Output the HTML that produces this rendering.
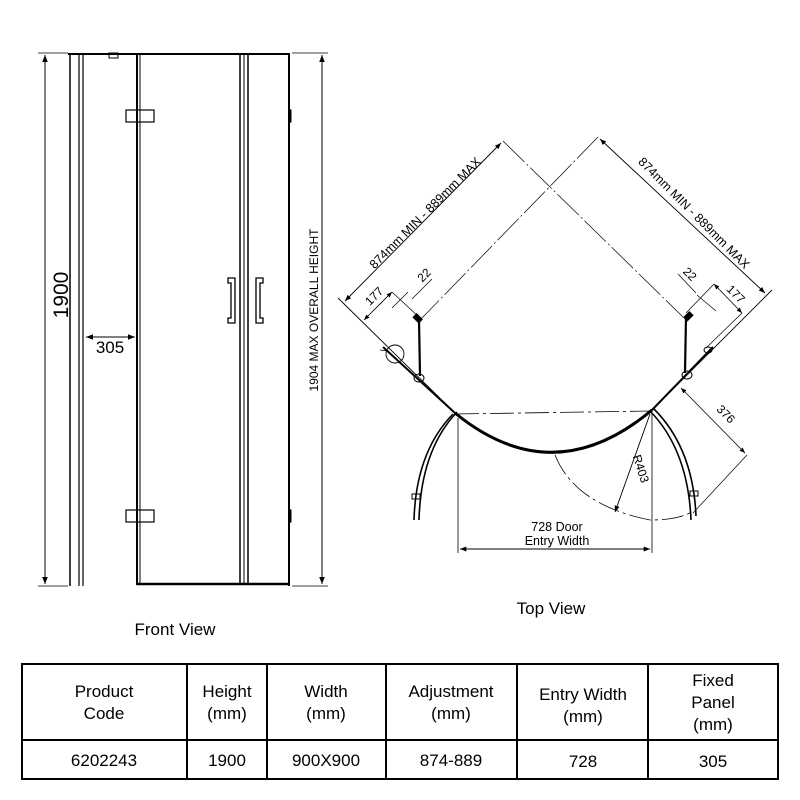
<!DOCTYPE html>
<html><head><meta charset="utf-8"><style>
body{margin:0;background:#fff;width:800px;height:800px;overflow:hidden}
svg{display:block}
text{font-family:"Liberation Sans",sans-serif;fill:#000}
</style></head><body>
<svg width="800" height="800" viewBox="0 0 800 800" xmlns="http://www.w3.org/2000/svg">
<defs>
<marker id="a" viewBox="0 0 10 10" refX="10" refY="5" markerWidth="7" markerHeight="7" orient="auto-start-reverse"><path d="M0,1 L10,5 L0,9 z" fill="#000"/></marker>
</defs>
<g stroke="#000" fill="none">
<!-- Front view -->
<line x1="70" y1="53" x2="70" y2="586" stroke-width="1.5"/>
<line x1="79" y1="53" x2="79" y2="586" stroke-width="1.2"/>
<line x1="83" y1="53" x2="83" y2="586" stroke-width="1.2"/>
<line x1="68" y1="54" x2="290" y2="54" stroke-width="2"/>
<rect x="109" y="53" width="9" height="5" stroke-width="1"/>
<line x1="137" y1="54" x2="137" y2="585" stroke-width="2"/>
<line x1="140" y1="54" x2="140" y2="585" stroke-width="1"/>
<line x1="240" y1="54" x2="240" y2="585" stroke-width="1.5"/>
<line x1="244" y1="54" x2="244" y2="585" stroke-width="1"/>
<line x1="248" y1="54" x2="248" y2="585" stroke-width="1.5"/>
<line x1="289" y1="54" x2="289" y2="586" stroke-width="2"/>
<line x1="137" y1="584" x2="289" y2="584" stroke-width="2.5"/>
<rect x="126" y="110" width="28" height="12" stroke-width="1.2"/>
<rect x="126" y="510" width="28" height="12" stroke-width="1.2"/>
<rect x="289" y="110" width="2" height="12" fill="#000"/>
<rect x="289" y="510" width="2" height="12" fill="#000"/>
<path d="M228,278h7v45h-7v-5h3v-35h-3z" stroke-width="1.3"/>
<path d="M263,278h-7v45h7v-5h-3v-35h3z" stroke-width="1.3"/>
<line x1="45" y1="55" x2="45" y2="584" stroke-width="1" marker-start="url(#a)" marker-end="url(#a)"/>
<line x1="38" y1="53" x2="68" y2="53" stroke-width="0.8"/>
<line x1="38" y1="586" x2="68" y2="586" stroke-width="0.8"/>
<line x1="322" y1="55" x2="322" y2="584" stroke-width="1" marker-start="url(#a)" marker-end="url(#a)"/>
<line x1="292" y1="53" x2="328" y2="53" stroke-width="0.8"/>
<line x1="292" y1="586" x2="328" y2="586" stroke-width="0.8"/>
<line x1="86" y1="337" x2="135" y2="337" stroke-width="1" marker-start="url(#a)" marker-end="url(#a)"/>

<!-- Top view -->
<line x1="345" y1="301" x2="501" y2="143" stroke-width="0.9" marker-start="url(#a)" marker-end="url(#a)"/>
<line x1="600" y1="139" x2="765" y2="293" stroke-width="0.9" marker-start="url(#a)" marker-end="url(#a)"/>
<line x1="503" y1="141" x2="683" y2="317" stroke-width="0.7" stroke-dasharray="30,3,2,3"/>
<line x1="598" y1="137" x2="420" y2="320" stroke-width="0.7" stroke-dasharray="30,3,2,3"/>
<line x1="338" y1="298" x2="455" y2="413" stroke-width="0.9"/>
<line x1="772" y1="290" x2="652" y2="410" stroke-width="0.9"/>
<line x1="383" y1="347" x2="455" y2="413" stroke-width="2"/>
<line x1="713" y1="347" x2="652" y2="410" stroke-width="2"/>
<line x1="364" y1="320" x2="392" y2="292" stroke-width="0.8" marker-start="url(#a)" marker-end="url(#a)"/>
<line x1="392" y1="292" x2="421" y2="319" stroke-width="0.7"/>
<line x1="392" y1="308" x2="408" y2="292" stroke-width="0.7"/>
<line x1="412" y1="299" x2="432" y2="279" stroke-width="0.7"/>
<line x1="714" y1="284" x2="742" y2="313" stroke-width="0.8" marker-start="url(#a)" marker-end="url(#a)"/>
<line x1="714" y1="284" x2="686" y2="313" stroke-width="0.7"/>
<line x1="697" y1="295" x2="716" y2="311" stroke-width="0.7"/>
<line x1="678" y1="274" x2="696" y2="293" stroke-width="0.7"/>
<line x1="742" y1="313" x2="706" y2="348" stroke-width="0.7"/>
<line x1="419" y1="320" x2="420" y2="376" stroke-width="2.2"/>
<line x1="686" y1="317" x2="685" y2="373" stroke-width="2.2"/>
<rect x="414" y="316" width="8" height="5" fill="#000" transform="rotate(45 418 318)"/>
<rect x="684" y="314" width="8" height="5" fill="#000" transform="rotate(-45 688 316)"/>
<ellipse cx="419" cy="378" rx="5" ry="4" stroke-width="1"/>
<ellipse cx="687" cy="375" rx="5" ry="4" stroke-width="1"/>
<ellipse cx="708" cy="350" rx="4" ry="3" stroke-width="1"/>
<circle cx="395" cy="354" r="9" stroke-width="0.9"/>
<line x1="380" y1="350" x2="388" y2="351" stroke-width="0.7"/>
<path d="M455,413 Q553,493 652,410" stroke-width="3"/>
<line x1="455" y1="414" x2="652" y2="411" stroke-width="0.8" stroke-dasharray="24,4,3,4"/>
<path d="M457,412 Q421,450 419,520" stroke-width="1.6"/>
<path d="M453,414 Q416,452 414,520" stroke-width="1.6"/>
<path d="M650,411 Q688,450 691,520" stroke-width="1.6"/>
<path d="M654,409 Q693,448 696,516" stroke-width="1.6"/>
<rect x="412" y="494" width="8" height="5" stroke-width="1"/>
<rect x="690" y="491" width="8" height="5" stroke-width="1"/>
<path d="M555,455 Q575,505 650,520 Q680,520 693,511" stroke-width="0.8" stroke-dasharray="22,4,3,4"/>
<line x1="681" y1="388" x2="745" y2="453" stroke-width="0.8" marker-start="url(#a)" marker-end="url(#a)"/>
<line x1="747" y1="455" x2="693" y2="513" stroke-width="0.7"/>
<line x1="650" y1="414" x2="615" y2="512" stroke-width="0.9" marker-end="url(#a)"/>
<line x1="458" y1="418" x2="458" y2="553" stroke-width="0.8"/>
<line x1="652" y1="414" x2="652" y2="553" stroke-width="0.8"/>
<line x1="460" y1="549" x2="650" y2="549" stroke-width="0.9" marker-start="url(#a)" marker-end="url(#a)"/>

<!-- Table -->
<rect x="22" y="664" width="756" height="115" stroke-width="2"/>
<line x1="22" y1="740" x2="778" y2="740" stroke-width="2"/>
<line x1="187" y1="664" x2="187" y2="779" stroke-width="2"/>
<line x1="267" y1="664" x2="267" y2="779" stroke-width="2"/>
<line x1="386" y1="664" x2="386" y2="779" stroke-width="2"/>
<line x1="517" y1="664" x2="517" y2="779" stroke-width="2"/>
<line x1="648" y1="664" x2="648" y2="779" stroke-width="2"/>
</g>

<text x="68" y="295" font-size="21" text-anchor="middle" transform="rotate(-90 68 295)">1900</text>
<text x="110" y="353" font-size="17" text-anchor="middle">305</text>
<text x="318" y="310" font-size="12" text-anchor="middle" transform="rotate(-90 318 310)">1904 MAX OVERALL HEIGHT</text>
<text x="175" y="635" font-size="17" text-anchor="middle">Front View</text>
<text x="551" y="614" font-size="17" text-anchor="middle">Top View</text>
<text x="428" y="216" font-size="12.5" text-anchor="middle" transform="rotate(-45 428 216)">874mm MIN - 889mm MAX</text>
<text x="691" y="216" font-size="12.5" text-anchor="middle" transform="rotate(45 691 216)">874mm MIN - 889mm MAX</text>
<text x="377" y="299" font-size="12" text-anchor="middle" transform="rotate(-45 377 299)">177</text>
<text x="427" y="278" font-size="12" text-anchor="middle" transform="rotate(-45 427 278)">22</text>
<text x="687" y="277" font-size="12" text-anchor="middle" transform="rotate(45 687 277)">22</text>
<text x="733" y="297" font-size="12" text-anchor="middle" transform="rotate(45 733 297)">177</text>
<text x="723" y="417" font-size="12" text-anchor="middle" transform="rotate(45 723 417)">376</text>
<text x="637" y="470" font-size="12" text-anchor="middle" transform="rotate(72 637 470)">R403</text>
<text x="557" y="531" font-size="12.5" text-anchor="middle">728 Door</text>
<text x="557" y="545" font-size="12.5" text-anchor="middle">Entry Width</text>

<g font-size="17" text-anchor="middle">
<text x="104" y="697">Product</text><text x="104" y="719">Code</text>
<text x="227" y="697">Height</text><text x="227" y="719">(mm)</text>
<text x="326" y="697">Width</text><text x="326" y="719">(mm)</text>
<text x="451" y="697">Adjustment</text><text x="451" y="719">(mm)</text>
<text x="583" y="700">Entry Width</text><text x="583" y="722">(mm)</text>
<text x="713" y="686">Fixed</text><text x="713" y="708">Panel</text><text x="713" y="730">(mm)</text>
<text x="104" y="766">6202243</text>
<text x="227" y="766">1900</text>
<text x="326" y="766">900X900</text>
<text x="451" y="766">874-889</text>
<text x="583" y="767">728</text>
<text x="713" y="767">305</text>
</g>
</svg>
</body></html>
